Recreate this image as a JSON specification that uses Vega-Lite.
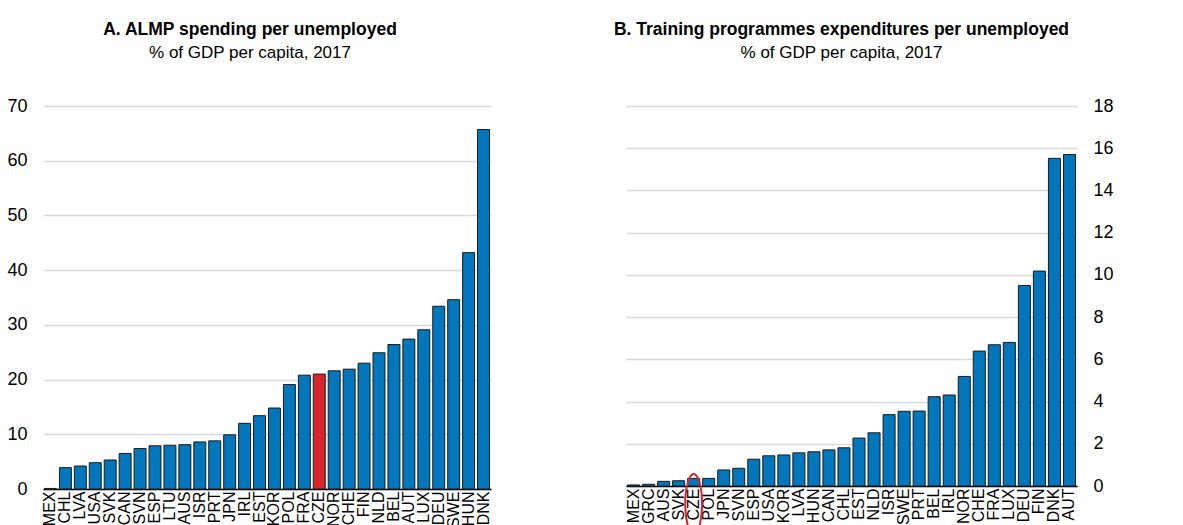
{
  "$schema": "https://vega.github.io/schema/vega-lite/v6.json",
  "padding": {"left": 6, "top": 20, "right": 5, "bottom": 5},
  "background": "white",
  "datasets": {
    "almp": [
      {"country": "MEX", "value": 0.1, "hl": "no"},
      {"country": "CHL", "value": 3.9, "hl": "no"},
      {"country": "LVA", "value": 4.2, "hl": "no"},
      {"country": "USA", "value": 4.8, "hl": "no"},
      {"country": "SVK", "value": 5.3, "hl": "no"},
      {"country": "CAN", "value": 6.5, "hl": "no"},
      {"country": "SVN", "value": 7.4, "hl": "no"},
      {"country": "ESP", "value": 7.9, "hl": "no"},
      {"country": "LTU", "value": 8.0, "hl": "no"},
      {"country": "AUS", "value": 8.1, "hl": "no"},
      {"country": "ISR", "value": 8.6, "hl": "no"},
      {"country": "PRT", "value": 8.8, "hl": "no"},
      {"country": "JPN", "value": 9.9, "hl": "no"},
      {"country": "IRL", "value": 12.0, "hl": "no"},
      {"country": "EST", "value": 13.4, "hl": "no"},
      {"country": "KOR", "value": 14.8, "hl": "no"},
      {"country": "POL", "value": 19.1, "hl": "no"},
      {"country": "FRA", "value": 20.8, "hl": "no"},
      {"country": "CZE", "value": 21.0, "hl": "yes"},
      {"country": "NOR", "value": 21.6, "hl": "no"},
      {"country": "CHE", "value": 21.9, "hl": "no"},
      {"country": "FIN", "value": 23.0, "hl": "no"},
      {"country": "NLD", "value": 24.9, "hl": "no"},
      {"country": "BEL", "value": 26.4, "hl": "no"},
      {"country": "AUT", "value": 27.4, "hl": "no"},
      {"country": "LUX", "value": 29.1, "hl": "no"},
      {"country": "DEU", "value": 33.4, "hl": "no"},
      {"country": "SWE", "value": 34.6, "hl": "no"},
      {"country": "HUN", "value": 43.2, "hl": "no"},
      {"country": "DNK", "value": 65.7, "hl": "no"}
    ],
    "training": [
      {"country": "MEX", "value": 0.05},
      {"country": "GRC", "value": 0.08},
      {"country": "AUS", "value": 0.22},
      {"country": "SVK", "value": 0.25},
      {"country": "CZE", "value": 0.36},
      {"country": "POL", "value": 0.36},
      {"country": "JPN", "value": 0.76},
      {"country": "SVN", "value": 0.84},
      {"country": "ESP", "value": 1.27},
      {"country": "USA", "value": 1.43},
      {"country": "KOR", "value": 1.47},
      {"country": "LVA", "value": 1.57},
      {"country": "HUN", "value": 1.62},
      {"country": "CAN", "value": 1.71},
      {"country": "CHL", "value": 1.81},
      {"country": "EST", "value": 2.27},
      {"country": "NLD", "value": 2.52},
      {"country": "ISR", "value": 3.38},
      {"country": "SWE", "value": 3.54},
      {"country": "PRT", "value": 3.55},
      {"country": "BEL", "value": 4.23},
      {"country": "IRL", "value": 4.31},
      {"country": "NOR", "value": 5.19},
      {"country": "CHE", "value": 6.39},
      {"country": "FRA", "value": 6.69},
      {"country": "LUX", "value": 6.8},
      {"country": "DEU", "value": 9.5},
      {"country": "FIN", "value": 10.18},
      {"country": "DNK", "value": 15.52},
      {"country": "AUT", "value": 15.7}
    ],
    "marker": [{"country": "CZE", "pos": -0.85}]
  },
  "config": {
    "font": "Liberation Sans",
    "view": {"stroke": null},
    "concat": {"spacing": 121},
    "axis": {"labelColor": "#000", "ticks": false, "title": null},
    "axisY": {"domain": false, "gridColor": "#d9d9d9", "gridWidth": 1.5, "labelFontSize": 18, "labelPadding": 16},
    "axisX": {"domainColor": "#000", "domainWidth": 1.5, "labelAngle": -90, "labelFontSize": 16, "labelPadding": 2, "grid": false},
    "title": {"fontSize": 17.5, "fontWeight": "bold", "color": "#000", "subtitleFontSize": 17, "subtitleColor": "#000", "subtitlePadding": 7, "offset": 36, "anchor": "middle"}
  },
  "hconcat": [
    {
      "width": 448,
      "height": 383,
      "title": {"text": "A. ALMP spending per unemployed", "subtitle": "% of GDP per capita, 2017", "dx": -17},
      "data": {"name": "almp"},
      "mark": {"type": "bar", "stroke": "#1a1a1a", "strokeWidth": 1},
      "encoding": {
        "x": {"field": "country", "type": "nominal", "sort": null, "scale": {"paddingInner": 0.2, "paddingOuter": 0.1}, "axis": {"labelOverlap": false}},
        "y": {"field": "value", "type": "quantitative", "scale": {"domain": [0, 70]}, "axis": {"values": [0, 10, 20, 30, 40, 50, 60, 70]}},
        "color": {"field": "hl", "type": "nominal", "scale": {"domain": ["no", "yes"], "range": ["#0077BD", "#DA232A"]}, "legend": null}
      }
    },
    {
      "width": 451,
      "height": 380,
      "title": {"text": "B. Training programmes expenditures per unemployed", "subtitle": "% of GDP per capita, 2017", "dx": -10},
      "layer": [
        {
          "data": {"name": "training"},
          "mark": {"type": "bar", "stroke": "#1a1a1a", "strokeWidth": 1, "color": "#0077BD"},
          "encoding": {
            "x": {"field": "country", "type": "nominal", "sort": null, "scale": {"paddingInner": 0.2, "paddingOuter": 0.1}, "axis": {"labelOverlap": false}},
            "y": {"field": "value", "type": "quantitative", "scale": {"domain": [0, 18]}, "axis": {"orient": "right", "values": [0, 2, 4, 6, 8, 10, 12, 14, 16, 18]}}
          }
        },
        {
          "data": {"name": "marker"},
          "mark": {"type": "point", "shape": "M -0.28 0 A 0.28 1 0 1 0 0.28 0 A 0.28 1 0 1 0 -0.28 0 Z", "size": 3600, "filled": false, "stroke": "#DA232A", "strokeWidth": 2, "opacity": 1},
          "encoding": {
            "x": {"field": "country", "type": "nominal", "sort": null},
            "y": {"field": "pos", "type": "quantitative"}
          }
        }
      ]
    }
  ]
}
